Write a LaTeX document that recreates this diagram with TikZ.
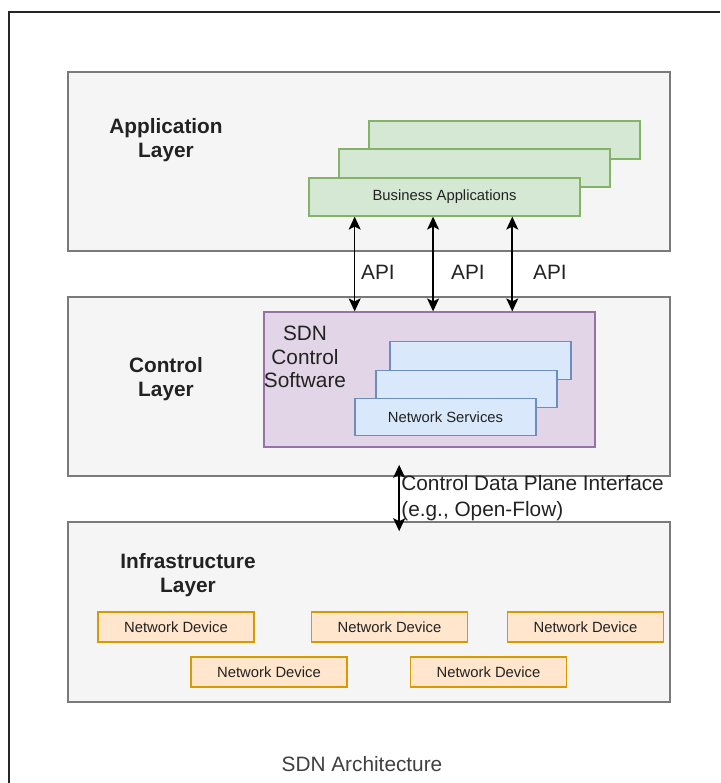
\documentclass[tikz,border=0pt]{standalone}
\usepackage{fontspec}
\setmainfont{Liberation Sans}
\usepackage{xcolor}
\usetikzlibrary{arrows.meta, calc, fit, positioning}

\definecolor{layerfill}{HTML}{F5F5F5}
\definecolor{layerline}{HTML}{7A7A7A}
\definecolor{appfill}{HTML}{D5E8D4}
\definecolor{appline}{HTML}{82B366}
\definecolor{sdnfill}{HTML}{E1D5E7}
\definecolor{sdnline}{HTML}{9673A6}
\definecolor{svcfill}{HTML}{DAE8FC}
\definecolor{svcline}{HTML}{6C8EBF}
\definecolor{devfill}{HTML}{FFE6CC}
\definecolor{devline}{HTML}{D79B00}
\definecolor{txtcol}{HTML}{222222}

\begin{document}
\begin{tikzpicture}[x=0.5pt, y=-0.5pt,
  layer/.style={draw=layerline, fill=layerfill, line width=0.8pt, inner sep=0pt},
  appbox/.style={draw=appline, fill=appfill, line width=0.6pt, inner sep=0pt,
    minimum width=135.5pt, minimum height=19pt, small},
  svcbox/.style={draw=svcline, fill=svcfill, line width=0.6pt, inner sep=0pt,
    minimum width=90.5pt, minimum height=18.8pt, small},
  devbox/.style={draw=devline, fill=devfill, line width=0.6pt, inner sep=0pt,
    minimum width=78pt, minimum height=15pt, small},
  small/.style={font=\fontsize{7.4}{9}\selectfont, text=txtcol},
  lbl/.style={font=\fontsize{10.4}{12}\selectfont, text=txtcol, inner sep=0pt, align=center},
  lname/.style={lbl, font=\fontsize{10.4}{12}\selectfont\bfseries},
  dbl/.style={{Stealth[length=6.5pt,width=6pt,inset=1.5pt]}-{Stealth[length=6.5pt,width=6pt,inset=1.5pt]},
    line width=0.8pt}]

  \useasboundingbox (0,0) rectangle (720,783);

  % outer frame
  \draw[line width=0.8pt, black!85] (9,783) -- (9,12) -- (720,12);

  % layers
  \node[layer, fit={(68,72) (670,251)}] (app) {};
  \node[layer, fit={(68,297) (670,476)}] (ctrl) {};
  \node[layer, fit={(68,522) (670,702)}] (infra) {};

  \node[lname] (applbl) at (166,140) {Application\\Layer};
  \node[lname] (ctrllbl) at (166,379) {Control\\Layer};
  \node[lname] (infralbl) at (188,575) {Infrastructure\\Layer};

  % business applications
  \node[appbox] (ba3) at (504.5,140) {};
  \node[appbox] (ba2) at (474.5,168) {};
  \node[appbox] (ba1) at (444.5,197) {Business Applications};

  % sdn control software
  \node[draw=sdnline, fill=sdnfill, line width=0.6pt, inner sep=0pt,
    fit={(264,312) (595,447)}] (sdn) {};
  \node[lbl, font=\fontsize{10.4}{11.8}\selectfont] (sdnlbl) at (305,357) {SDN\\Control\\Software};
  \node[svcbox] (ns3) at (480.5,360.5) {};
  \node[svcbox] (ns2) at (466.5,389) {};
  \node[svcbox] (ns1) at (445.5,417) {Network Services};

  % api arrows
  \foreach \f/\n in {0.17/1, 0.458/2, 0.749/3}
    \draw[dbl] ($(ba1.south west)!\f!(ba1.south east)$) coordinate (a\n) -- (a\n |- sdn.north);
  \node[lbl] (api1) at (378,272) {API};
  \node[lbl] (api2) at (468,272) {API};
  \node[lbl] (api3) at (550,272) {API};

  % control data plane interface
  \draw[dbl] ($(ctrl.south west)!0.55!(ctrl.south east)+(0,-12)$) coordinate (cd)
    -- ($(cd |- infra.north)+(0,10)$);
  \node[lbl, anchor=west, align=left, font=\fontsize{10.4}{13}\selectfont] (cdpi) at (401,498)
    {Control Data Plane Interface\\(e.g., Open-Flow)};

  % network devices
  \node[devbox] (dev1) at (176,627) {Network Device};
  \node[devbox] (dev2) at (389.5,627) {Network Device};
  \node[devbox] (dev3) at (585.5,627) {Network Device};
  \node[devbox] (dev4) at (269,672) {Network Device};
  \node[devbox] (dev5) at (488.5,672) {Network Device};

  \node[lbl, text=black!75] (title) at (362,764) {SDN Architecture};
\end{tikzpicture}
\end{document}
